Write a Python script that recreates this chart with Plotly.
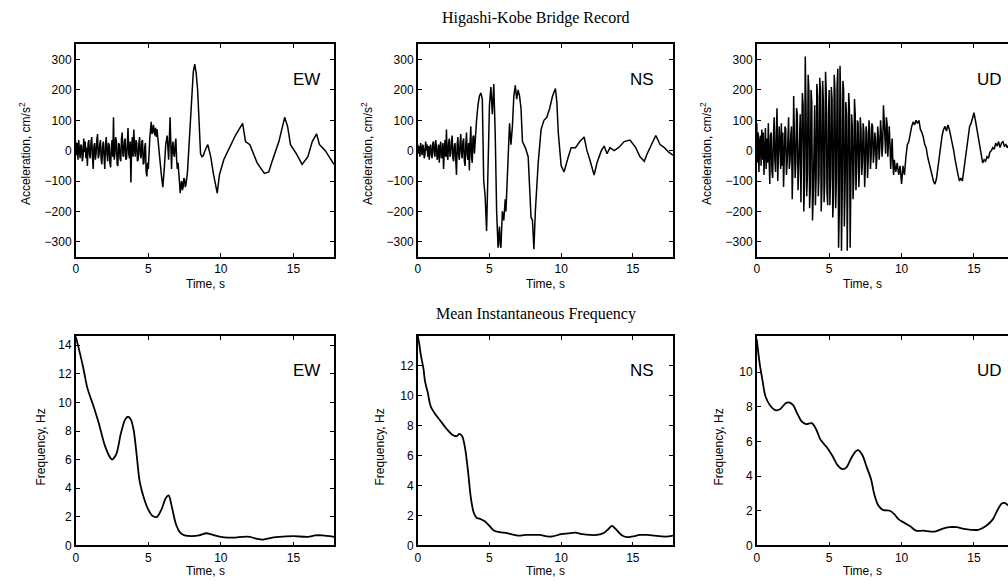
import plotly.graph_objects as go

# ---------------- DATA ----------------
# EW acceleration record: densely sampled noisy segment (0-5 s, 0.05 s step) + rest
ew_noise_t0, ew_noise_dt = 0.0, 0.05
ew_noise_a = [30,-15,25,-30,35,-10,-25,20,15,-35,-20,40,-5,30,-25,10,-50,25,35,-15,
              -25,30,45,-20,-60,15,25,-30,-10,35,55,-25,-15,20,35,-30,-45,15,30,-20,
              -60,20,45,-10,-35,25,20,-40,-55,10,35,-20,110,-30,-10,45,30,-45,-50,25,
              20,-25,-35,40,60,-15,-20,30,40,-30,-25,20,75,-10,-25,30,-105,15,45,-20,
              70,10,-20,35,25,-35,-30,25,45,-15,-25,30,35,-45,-40,10,25,-70,-85,-40,
              -60]
ew_rest_t = [5.1,5.15,5.2,5.25,5.3,5.35,5.4,5.45,5.5,5.55,5.6,5.65,5.7,5.8,5.9,
             6.0,6.05,6.1,6.2,6.3,6.35,6.4,6.5,6.55,6.6,6.65,6.7,6.75,6.8,6.85,6.9,6.95,7.0,7.05,7.1,
             7.2,7.25,7.3,7.35,7.4,7.45,7.5,7.55,7.6,7.7,7.8,7.9,
             8.0,8.1,8.2,8.3,8.4,8.5,8.6,8.7,8.8,8.9,9.0,9.1,9.2,9.3,9.5,9.75,9.9,10.2,10.5,11.0,
             11.5,11.7,12.0,12.5,13.0,13.3,13.5,14.0,14.4,14.6,14.8,15.2,15.6,16.0,16.3,16.6,16.8,17.2,17.6,17.8]
ew_rest_a = [40,70,95,55,60,85,70,50,75,45,70,40,30,-20,-80,
             -120,-70,-60,20,50,10,-30,110,-20,-60,10,30,-10,-20,20,40,-30,-60,-40,-90,
             -140,-110,-100,-130,-120,-90,-95,-120,-110,-70,20,100,
             180,260,285,255,200,90,-10,-20,-15,0,10,20,0,-20,-80,-140,-80,-30,0,50,
             90,30,20,-40,-75,-70,-40,30,110,80,20,-10,-45,-20,30,55,20,0,-30,-45]

# NS acceleration record
ns_noise_t0, ns_noise_dt = 0.0, 0.05
ns_noise_a = [20,-10,15,-20,25,-5,-15,20,10,-25,-15,30,0,20,-20,15,-30,10,20,-15,
              -25,25,30,-10,-20,35,15,-30,-15,20,-40,10,30,-25,-20,25,-60,5,35,-20,
              70,-15,-30,25,40,-20,-10,30,50,-25,-35,15,25,-30,-80,20,45,-15,-30,25,
              55,-10,-25,30,40,-35,-50,20,60,-15,-30,25,-65,30,80,-20,-40,45,50,-10,
              40]
ns_rest_t = [4.1,4.2,4.3,4.4,4.5,4.6,4.7,4.8,4.9,5.0,5.1,5.2,5.3,5.4,5.5,5.6,5.65,5.7,5.75,5.8,5.85,5.9,
             6.0,6.05,6.1,6.15,6.2,6.3,6.4,6.5,6.6,6.7,6.8,6.9,7.0,7.1,7.2,7.3,7.5,7.7,7.8,7.9,8.0,8.1,
             8.2,8.3,8.4,8.6,8.8,9.0,9.2,9.4,9.6,9.7,9.8,10.0,10.2,10.5,10.7,11.0,11.3,11.6,11.8,12.0,
             12.3,12.5,12.8,13.0,13.2,13.4,13.7,14.0,14.4,14.8,15.2,15.5,15.8,16.0,16.3,16.6,16.9,17.2,17.5,17.8]
ns_rest_a = [100,150,180,190,170,-100,-150,-265,-80,150,210,120,220,60,-200,-320,-280,-250,-310,-320,-260,-200,
             -230,-190,-160,-200,-130,0,90,20,80,180,215,170,200,180,140,30,10,-20,-150,-220,-230,-325,
             -200,-120,-40,70,100,110,140,180,205,160,60,-50,-70,-20,10,10,30,45,0,-30,
             -80,-40,0,15,-10,10,0,10,30,35,10,-20,-35,-10,20,50,20,10,-5,-15]

# UD acceleration record
ud_noise_t0, ud_noise_dt = 0.0, 0.05
ud_noise_a = [90,-40,60,-70,30,50,-50,70,-30,60,-80,20,75,-60,40,-40,90,-20,-110,50,
              60,-70,-90,40,110,-30,-70,60,140,-100,-40,80,30,-60,90,-50,60,-120,-30,80,
              70,-80,-40,90,110,-60,-30,50,80,-160,-50,180,60,-90,-40,140,120,-130,-60,100,
              120,-170,-40,190,150,-200,-100,310,150,-150,-80,250,200,-190,-120,200,160,-230,-150,120,
              150,-180,-90,220,180,-150,-80,240,200,-200,-120,230,160,-170,-100,260,190,-140,-180,120,
              200,-180,-90,210,170,-220,-150,250,200,-190,-100,220,270,-320,-200,280,160,-330,-150,230,
              200,-250,-120,160,120,-330,-150,190,140,-320,-100,120,80,-160,-90,170,120,-130,-60,100,
              90,-120,-50,110,70,-80,-40,90,60,-120,-50,80,60,-90,-30,100,70,-60,-20,90,
              80,-40,-10,60,40,-60,-20,80,50,-30,10,100,60,-20,20,150,100,40,-10,110,
              90,-20,30,80,20,-60,0,40,-40,-80]
ud_rest_t = [9.5,9.6,9.7,9.8,9.9,10.0,10.1,10.2,10.3,10.4,10.5,10.6,10.7,10.8,10.9,11.0,11.1,11.2,11.3,11.4,
             11.5,11.6,11.7,11.8,11.9,12.0,12.1,12.2,12.3,12.4,12.5,12.6,12.7,12.8,12.9,13.0,13.1,13.2,13.3,13.4,
             13.5,13.6,13.7,13.8,13.9,14.0,14.1,14.2,14.3,14.4,14.5,14.6,14.7,14.8,14.9,15.0,15.1,15.2,15.3,15.4,
             15.5,15.6,15.7,15.8,15.9,16.0,16.1,16.2,16.3,16.4,16.5,16.6,16.7,16.8,16.9,17.0,17.1,17.2,17.3,17.4]
ud_rest_a = [-30,-70,-40,-80,-50,-110,-50,-80,-20,20,30,60,80,95,85,100,90,100,70,60,
             45,20,10,-20,-40,-70,-80,-100,-110,-95,-60,-20,20,50,70,80,65,85,70,50,
             30,0,-30,-60,-80,-100,-90,-100,-60,-20,20,50,80,90,110,125,100,70,50,20,
             -10,-40,-30,-35,-20,-25,-5,0,10,5,25,15,30,10,25,30,15,20,10,20]

# Mean instantaneous frequency
ewf_t = [0,0.2,0.5,0.8,1.2,1.6,2.0,2.4,2.5,2.8,3.1,3.4,3.6,3.8,4.0,4.2,4.4,4.7,5.0,5.3,
         5.6,5.9,6.2,6.4,6.6,6.9,7.2,7.5,8.0,8.5,9.0,9.4,10.0,10.5,11.0,11.5,12.0,12.5,12.9,13.3,
         14.0,15.0,16.0,16.5,17.0,17.8]
ewf_f = [14.6,13.8,12.5,11.0,9.8,8.5,7.0,6.1,6.0,6.4,7.8,8.8,9.0,8.8,8.0,6.3,4.5,3.3,2.5,2.05,
         2.0,2.5,3.3,3.5,2.8,1.5,0.9,0.7,0.65,0.7,0.85,0.75,0.6,0.55,0.55,0.6,0.6,0.45,0.4,0.5,
         0.6,0.65,0.6,0.7,0.7,0.6]

nsf_t = [0,0.1,0.2,0.4,0.5,0.7,0.9,1.2,1.6,2.0,2.4,2.7,2.9,3.1,3.3,3.5,3.7,3.9,4.1,4.4,
         4.7,5.0,5.3,5.6,6.0,6.5,7.0,7.5,8.0,8.5,9.0,9.4,10.0,10.5,11.0,11.5,12.0,12.5,13.0,13.3,
         13.55,13.8,14.2,14.6,15.0,15.5,16.0,16.5,17.0,17.5,17.8]
nsf_f = [14.0,13.5,12.8,11.8,11.0,10.2,9.3,8.8,8.3,7.8,7.4,7.3,7.45,7.3,6.5,5.0,3.2,2.2,1.85,1.75,
         1.6,1.3,1.0,0.9,0.85,0.75,0.65,0.7,0.7,0.7,0.6,0.6,0.75,0.8,0.85,0.75,0.7,0.7,0.85,1.1,
         1.3,1.1,0.7,0.55,0.6,0.7,0.7,0.65,0.6,0.6,0.65]

udf_t = [0,0.2,0.4,0.6,0.9,1.3,1.6,2.0,2.2,2.5,2.8,3.1,3.4,3.8,4.1,4.4,4.8,5.2,5.6,5.9,
         6.2,6.5,6.8,7.0,7.3,7.6,7.9,8.1,8.4,8.7,9.2,9.5,9.8,10.2,10.6,11.0,11.5,12.0,12.3,12.8,
         13.3,13.8,14.3,14.8,15.3,15.8,16.3,16.6,16.9,17.1,17.4,17.6]
udf_f = [11.9,10.5,9.5,8.6,8.1,7.8,7.85,8.2,8.25,8.1,7.6,7.15,7.0,7.05,6.7,6.1,5.7,5.2,4.6,4.4,
         4.5,5.0,5.4,5.5,5.2,4.5,3.8,3.0,2.3,2.05,2.0,1.8,1.5,1.3,1.1,0.85,0.85,0.8,0.8,0.95,
         1.05,1.05,0.95,0.9,0.9,1.1,1.5,2.0,2.4,2.45,2.3,2.2]

panel_labels = ["EW", "NS", "UD"]
acc_ticks = [-300, -200, -100, 0, 100, 200, 300]
time_ticks = [0, 5, 10, 15]


def join(t0, dt, noise, rest_t, rest_a):
    t = [round(t0 + k * dt, 3) for k in range(len(noise))]
    return t + list(rest_t), list(noise) + list(rest_a)


ew_t, ew_a = join(ew_noise_t0, ew_noise_dt, ew_noise_a, ew_rest_t, ew_rest_a)
ns_t, ns_a = join(ns_noise_t0, ns_noise_dt, ns_noise_a, ns_rest_t, ns_rest_a)
ud_t, ud_a = join(ud_noise_t0, ud_noise_dt, ud_noise_a, ud_rest_t, ud_rest_a)

# ---------------- FIGURE ----------------
W, H = 1008, 587
def px_x(p): return p / W
def px_y(p): return 1 - p / H

col_dom = [(73, 332), (416, 672), (756, 1008)]
row_dom = [(45, 260), (340, 552)]
x_rng = [17.8, 17.8, 17.35]
freq_rng = [[0, 14.65], [0, 14.0], [0, 12.08]]
freq_ticks = [list(range(0, 15, 2)), list(range(0, 13, 2)), list(range(0, 11, 2))]

series = [(ew_t, ew_a), (ns_t, ns_a), (ud_t, ud_a),
          (ewf_t, ewf_f), (nsf_t, nsf_f), (udf_t, udf_f)]

fig = go.Figure()
sans = "Liberation Sans, Arial, sans-serif"
tickfont = dict(family=sans, size=12, color="black")
layout = dict(width=W, height=H, margin=dict(l=0, r=0, t=0, b=0),
              paper_bgcolor="white", plot_bgcolor="white", showlegend=False)
annotations = []

for i, (tx, vy) in enumerate(series):
    r, c = divmod(i, 3)
    n = i + 1
    xa = "x" if n == 1 else f"x{n}"
    ya = "y" if n == 1 else f"y{n}"
    if r == 0:
        line = dict(color="black", width=1.5)
    else:
        line = dict(color="black", width=1.8, shape="spline", smoothing=0.8)
    fig.add_trace(go.Scatter(x=tx, y=vy, mode="lines", xaxis=xa, yaxis=ya,
                             line=line, hoverinfo="skip"))
    xkey = "xaxis" if n == 1 else f"xaxis{n}"
    ykey = "yaxis" if n == 1 else f"yaxis{n}"
    cx0, cx1 = col_dom[c]
    ry0, ry1 = row_dom[r]
    layout[xkey] = dict(domain=[px_x(cx0), px_x(cx1)], anchor=ya, range=[0, x_rng[c]],
                        tickmode="array", tickvals=time_ticks, ticks="inside", ticklen=4,
                        tickcolor="black", showline=True, linecolor="black", linewidth=1.5,
                        mirror="ticks", showgrid=False, zeroline=False, tickfont=tickfont,
                        fixedrange=True)
    if r == 0:
        yr, yt = [-350, 350], acc_ticks
    else:
        yr, yt = freq_rng[c], freq_ticks[c]
    layout[ykey] = dict(domain=[px_y(ry1), px_y(ry0)], anchor=xa, range=yr,
                        tickmode="array", tickvals=yt, ticks="inside", ticklen=4,
                        tickcolor="black", showline=True, linecolor="black", linewidth=1.5,
                        mirror=("ticks" if c < 2 else False), showgrid=False, zeroline=False,
                        tickfont=tickfont, fixedrange=True)
    # panel label
    lab_x = [304, 641, 989][c]
    lab_y = [80, 375][r]
    annotations.append(dict(text=panel_labels[c], x=px_x(lab_x), y=px_y(lab_y), xref="paper",
                            yref="paper", showarrow=False, xanchor="center", yanchor="middle",
                            font=dict(family=sans, size=17, color="black")))
    # x-axis title
    tx_y = [287, 578][r]
    annotations.append(dict(text="Time, s", x=px_x([203, 544, 862][c]), y=px_y(tx_y),
                            xref="paper", yref="paper", showarrow=False, xanchor="center",
                            yanchor="middle", font=tickfont))
    # y-axis title
    yx = [[22, 365, 705], [38, 378, 718]][r][c]
    yy = [155, 452][r]
    ytitle = "Acceleration, cm/s<sup>2</sup>" if r == 0 else "Frequency, Hz"
    annotations.append(dict(text=ytitle, x=px_x(yx), y=px_y(yy), xref="paper", yref="paper",
                            showarrow=False, xanchor="center", yanchor="middle", textangle=-90,
                            font=tickfont))

serif = dict(family="Liberation Serif, Times New Roman, serif", size=16, color="black")
annotations.append(dict(text="Higashi-Kobe Bridge Record", x=px_x(535), y=px_y(18),
                        xref="paper", yref="paper", showarrow=False, xanchor="center",
                        yanchor="middle", font=serif))
annotations.append(dict(text="Mean Instantaneous Frequency", x=px_x(535), y=px_y(318),
                        xref="paper", yref="paper", showarrow=False, xanchor="center",
                        yanchor="middle", font=serif))
layout["annotations"] = annotations
fig.update_layout(**layout)
fig.write_html("out.html")
